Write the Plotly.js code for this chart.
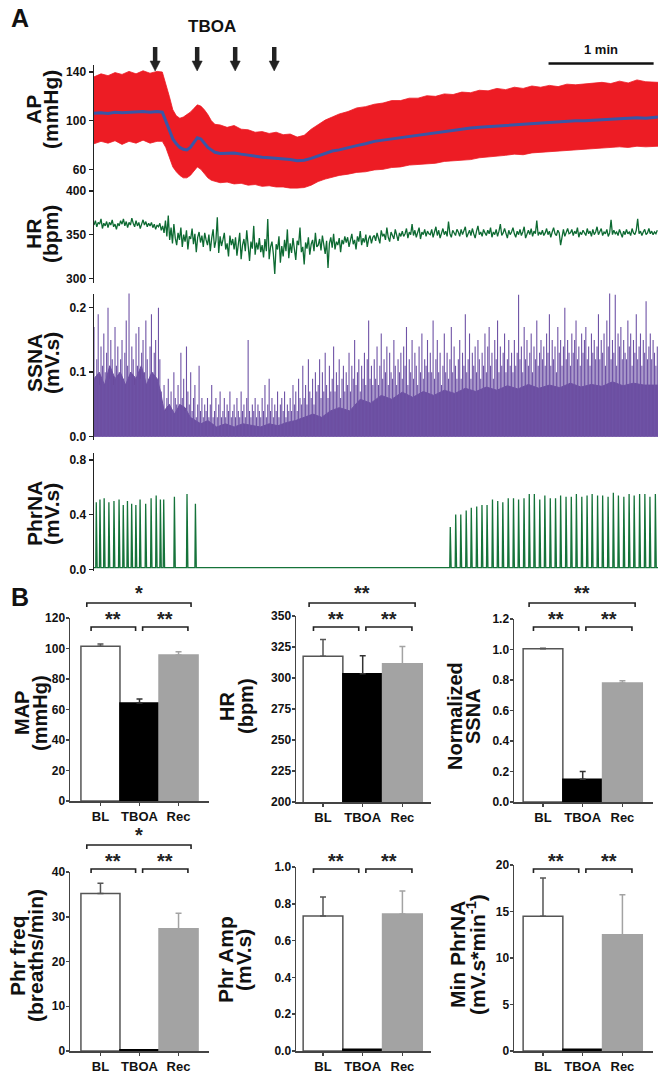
<!DOCTYPE html>
<html>
<head>
<meta charset="utf-8">
<script src="https://cdn.plot.ly/plotly-3.0.1.min.js"></script>
<style>
  html, body { margin: 0; padding: 0; background: #fff; }
  #chart { width: 662px; height: 1074px; }
</style>
</head>
<body>
<div id="chart"></div>
<script>
// ---------- Panel A: raw recordings (time in s) ----------
const apTime = [0,4,8,12,16,20,24,28,32,36,
  39,41,43,45,47,49,51,53,55,57,
  59,61,63,65,67,69,72,76,80,84,
  88,92,96,100,104,108,112,116,120,124,
  128,132,136,140,145,150,155,160,165,170,
  175,180,185,190,195,200,205,210,215,220,
  225,230,235,240,245,250,255,260,265,270,
  275,280,285,290,295,300,305,310,315,322];
const apSystolic = [136,138.5,137,139.5,138,140.5,138.5,141,139,140.5,
  140,131,120,109,104,102,103,105,107,110,
  113,112,109,105,100,97,96.5,94.5,96,93,
  92.5,90.5,91,89.5,90.5,88.5,89,86.5,88,93,
  97,100.5,103,105.5,107.5,110.5,111.5,113.5,114.5,116.5,
  116.5,118.5,118.5,120.5,120,122,121.5,123.5,123,125,
  124.5,126.5,125.5,127.5,126.5,128.5,127.5,129,128,130,
  129.5,130,130.5,131.5,130.5,132.5,131,133.5,132,131.5];
const apDiastolic = [81,83,81.5,83.5,80.5,83,81.5,84,81.5,83,
  83,78,70,62,58,55,53,53,55,59,
  62,60,56,53,51,50,49,49.5,48,48.5,
  47,47.5,46,46.5,45.5,45.5,44.5,44.5,45,47,
  50,52,53.5,55,56,57.5,58,59.5,60,61.5,
  62,63.5,64,64.5,65,66.5,67,67.5,68,69.5,
  70,71,71.5,72.5,72,73.5,74,74.5,75,75.5,
  76,76.5,77,77.5,77.5,78.5,78,79,78.5,79];
const apMean = [106,106.5,106,107,106.5,107,107,107.5,107,107.5,
  107,100,92,85,81,78,76.5,76,78,82,
  86,85,81,78,76,74,73,73,73.5,72.5,
  71.5,70.5,70,69.5,69,69,68,67,67.5,69,
  71,73,75,76,78,79.5,81,83,84,85,
  86.5,87.5,88.5,89.5,90,91,92,93,94,94.5,
  95,96,96.5,97,97,97.5,98,98.5,99,99.5,
  100,100,100.5,101,101,101.5,102,102.5,102,103];

const hrStep = 0.8; // s between HR samples
const hrValues = [
  361,366,359,364,362,368,357,363,360,365,358,364,361,367,359,362,356,363,360,366,
  362,368,360,365,358,364,361,369,363,359,366,360,364,357,362,367,361,365,359,363,
  360,364,358,362,356,361,359,363,355,360,352,366,348,372,344,358,340,362,346,338,
  352,344,358,336,350,342,355,333,348,345,357,339,351,330,347,353,341,349,336,352,
  344,338,350,331,346,356,335,343,370,329,348,337,344,352,333,340,325,349,338,345,
  333,347,326,340,352,322,338,345,331,355,336,320,342,334,360,327,341,333,346,330,
  338,324,345,331,368,322,336,342,328,305,339,333,348,318,337,325,344,331,356,323,
  340,329,346,335,321,343,338,358,330,336,316,341,334,347,327,339,344,331,352,336,
  338,345,332,349,336,328,343,312,340,347,335,351,333,342,338,346,330,344,339,348,
  341,347,336,345,351,339,344,333,348,342,354,338,346,341,350,336,345,349,340,347,
  349,343,352,346,340,355,348,351,344,358,347,342,353,349,345,356,350,343,352,348,
  354,348,351,357,346,353,350,362,349,355,347,352,358,345,353,350,356,348,354,351,
  350,356,347,353,359,349,355,346,352,357,350,354,348,365,351,347,355,352,349,356,
  353,348,356,350,354,359,347,352,355,349,357,351,346,354,360,350,353,348,356,352,
  349,355,351,358,347,353,350,356,348,354,362,349,352,357,351,346,355,350,353,358,
  351,347,354,350,356,349,353,359,346,352,355,350,357,348,354,351,366,349,353,350,
  355,349,352,357,350,354,347,353,358,351,349,355,352,338,350,356,348,353,357,351,
  352,356,349,354,351,358,347,353,350,355,352,349,357,351,354,348,356,350,353,359,
  350,354,357,349,353,351,356,348,352,367,350,355,351,353,349,356,352,347,354,350,
  356,351,353,349,357,352,350,355,368,351,354,349,353,356,350,352,357,351,354,350,
  353,351,355];

const ssnaStep = 0.8; // s between integrated SSNA bursts
const ssnaPeaks = [
  0.17,0.09,0.12,0.19,0.08,0.14,0.11,0.16,0.10,0.13,0.20,0.09,0.15,0.12,0.08,0.17,0.11,0.14,0.10,0.12,
  0.15,0.09,0.13,0.18,0.11,0.23,0.10,0.14,0.12,0.08,0.16,0.11,0.17,0.09,0.13,0.15,0.10,0.18,0.12,0.09,
  0.14,0.19,0.10,0.13,0.15,0.09,0.20,0.12,0.07,0.05,0.08,0.04,0.06,0.09,0.05,0.07,0.04,0.10,0.06,0.05,
  0.08,0.05,0.13,0.06,0.09,0.04,0.14,0.07,0.05,0.10,0.04,0.06,0.08,0.03,0.05,0.11,0.04,0.06,0.03,0.05,
  0.04,0.06,0.03,0.05,0.08,0.03,0.04,0.06,0.03,0.05,0.07,0.03,0.04,0.06,0.03,0.05,0.04,0.07,0.03,0.04,
  0.05,0.03,0.06,0.04,0.03,0.07,0.04,0.05,0.03,0.06,0.15,0.04,0.03,0.05,0.04,0.06,0.03,0.05,0.04,0.03,
  0.06,0.04,0.08,0.03,0.05,0.09,0.04,0.06,0.03,0.05,0.04,0.07,0.03,0.05,0.06,0.04,0.07,0.03,0.05,0.04,
  0.06,0.04,0.08,0.05,0.07,0.04,0.09,0.06,0.05,0.11,0.06,0.08,0.05,0.12,0.07,0.06,0.09,0.05,0.10,0.07,
  0.08,0.12,0.06,0.10,0.07,0.13,0.08,0.06,0.11,0.07,0.09,0.14,0.07,0.10,0.08,0.12,0.06,0.09,0.11,0.07,
  0.10,0.08,0.13,0.07,0.11,0.09,0.15,0.08,0.10,0.12,0.07,0.11,0.09,0.13,0.08,0.12,0.18,0.09,0.11,0.08,
  0.12,0.09,0.14,0.08,0.11,0.16,0.09,0.12,0.10,0.14,0.08,0.13,0.10,0.09,0.15,0.11,0.08,0.12,0.10,0.13,
  0.09,0.14,0.11,0.17,0.08,0.12,0.10,0.15,0.09,0.13,0.11,0.08,0.14,0.10,0.16,0.09,0.12,0.11,0.15,0.10,
  0.13,0.10,0.18,0.09,0.12,0.15,0.10,0.13,0.08,0.11,0.16,0.10,0.13,0.09,0.12,0.17,0.10,0.14,0.11,0.09,
  0.12,0.15,0.09,0.13,0.11,0.19,0.10,0.12,0.16,0.09,0.13,0.11,0.14,0.10,0.15,0.12,0.09,0.13,0.11,0.16,
  0.10,0.14,0.17,0.11,0.13,0.09,0.15,0.12,0.18,0.10,0.14,0.11,0.13,0.16,0.10,0.12,0.15,0.11,0.13,0.10,
  0.15,0.11,0.13,0.22,0.12,0.14,0.10,0.17,0.12,0.15,0.11,0.13,0.16,0.10,0.14,0.12,0.18,0.11,0.13,0.15,
  0.12,0.14,0.11,0.16,0.13,0.19,0.11,0.15,0.12,0.14,0.10,0.17,0.13,0.15,0.11,0.14,0.20,0.12,0.15,0.13,
  0.11,0.16,0.13,0.15,0.18,0.12,0.14,0.11,0.16,0.13,0.15,0.17,0.12,0.14,0.11,0.16,0.13,0.15,0.12,0.14,
  0.19,0.12,0.15,0.13,0.16,0.11,0.18,0.14,0.24,0.12,0.15,0.13,0.22,0.11,0.16,0.14,0.17,0.12,0.15,0.13,
  0.12,0.18,0.14,0.16,0.11,0.15,0.13,0.19,0.12,0.14,0.16,0.11,0.15,0.13,0.21,0.12,0.14,0.16,0.12,0.15,
  0.13,0.11,0.14];
const ssnaBodyTime = [0,3,6,9,12,15,18,21,24,27,30,33,36,38,40,43,46,49,52,55,
  58,61,65,70,75,80,85,90,95,100,105,110,115,120,125,130,135,140,146,152,
  158,164,170,176,182,188,194,200,206,212,218,224,230,236,242,248,254,260,266,272,
  278,284,290,296,302,308,314,322];
const ssnaBody = [0.09,0.10,0.08,0.11,0.09,0.10,0.08,0.10,0.09,0.11,
  0.08,0.10,0.09,0.07,0.04,0.05,0.035,0.05,0.045,0.03,
  0.025,0.02,0.025,0.015,0.02,0.015,0.02,0.018,0.015,0.02,
  0.017,0.022,0.025,0.03,0.035,0.03,0.04,0.045,0.04,0.058,
  0.052,0.064,0.058,0.069,0.061,0.07,0.064,0.072,0.067,0.075,
  0.07,0.077,0.072,0.079,0.074,0.081,0.075,0.08,0.076,0.083,
  0.077,0.081,0.078,0.085,0.079,0.083,0.08,0.08];

const phrBurstTimes = [1.3,3.4,5.8,8.5,11.4,14.3,16.7,19.1,21.5,23.9,26.3,29.5,32.6,35.5,37.9,39.8,
  45.9,53.1,57.9,
  203.4,206.5,209.4,212.5,215.4,218.5,221.5,224.4,227.5,230.5,
  233.4,236.5,239.5,242.4,245.5,248.5,251.4,254.5,257.4,260.5,
  263.5,266.4,269.5,272.5,275.4,278.5,281.5,284.4,287.5,290.4,
  293.5,296.5,299.4,302.5,305.5,308.4,311.5,314.5,317.4,320.5];
const phrBurstAmps = [0.49,0.51,0.52,0.49,0.50,0.51,0.47,0.50,0.48,0.47,0.51,0.48,0.52,0.54,0.51,0.51,
  0.53,0.55,0.48,
  0.31,0.40,0.40,0.43,0.45,0.46,0.47,0.47,0.51,0.50,
  0.49,0.52,0.52,0.51,0.52,0.55,0.55,0.51,0.54,0.52,
  0.52,0.54,0.53,0.53,0.55,0.53,0.54,0.55,0.54,0.54,
  0.53,0.56,0.54,0.53,0.55,0.54,0.55,0.55,0.53,0.55];
const phrBaseline = 0.012;

const tboaTimes = [34.9, 58.9, 80.6, 102.9];
const scaleBarStart = 259.5, scaleBarLength = 60;
const recordEnd = 322;

// ---------- Panel B: group data (mean, SEM) ----------
const groups = ["BL", "TBOA", "Rec"];
const mapMean = [101.5, 64.3, 95.8], mapSem = [1.5, 2.6, 2.0];
const hrMean = [317.5, 303.5, 311.5], hrSem = [13.5, 14.5, 14.0];
const ssnaMean = [1.005, 0.15, 0.78], ssnaSem = [0.004, 0.05, 0.015];
const phrFreqMean = [35.2, 0.3, 27.3], phrFreqSem = [2.3, 0, 3.5];
const phrAmpMean = [0.734, 0.01, 0.745], phrAmpSem = [0.103, 0, 0.125];
const minPhrMean = [14.5, 0.2, 12.5], minPhrSem = [4.1, 0, 4.3];

// ---------- helpers ----------
const FONT = "Arial, 'Liberation Sans', sans-serif";
const W = 662, H = 1074;
const px = x => x / W;
const py = y => 1 - y / H;
const bold = (size, color = "#111") => ({ family: FONT, size, weight: "bold", color });

const traces = [];
const annotations = [];
const shapes = [];

// AP band + mean
traces.push({ x: apTime, y: apDiastolic, xaxis: "x", yaxis: "y", mode: "lines",
  line: { color: "#ed1c24", width: 0.8 } });
traces.push({ x: apTime, y: apSystolic, xaxis: "x", yaxis: "y", mode: "lines",
  fill: "tonexty", fillcolor: "#ed1c24", line: { color: "#ed1c24", width: 0.8 } });
traces.push({ x: apTime, y: apMean, xaxis: "x", yaxis: "y", mode: "lines",
  line: { color: "#3a56a6", width: 3 } });

// HR
traces.push({ x: hrValues.map((_, i) => i * hrStep), y: hrValues, xaxis: "x", yaxis: "y2",
  mode: "lines", line: { color: "#0d6a32", width: 1.3 } });

// SSNA body + bursts
traces.push({ x: ssnaBodyTime, y: ssnaBody, xaxis: "x", yaxis: "y3", mode: "lines",
  fill: "tozeroy", fillcolor: "#6a4b9d", line: { color: "#6a4b9d", width: 1 } });
const ssnaX = [], ssnaY = [];
ssnaPeaks.forEach((p, i) => { ssnaX.push(i * ssnaStep, i * ssnaStep, null); ssnaY.push(0, p, null); });
traces.push({ x: ssnaX, y: ssnaY, xaxis: "x", yaxis: "y3", mode: "lines",
  line: { color: "#6f53a6", width: 1.1 } });

// PhrNA
const phrX = [0], phrY = [phrBaseline];
phrBurstTimes.forEach((t, i) => {
  phrX.push(t - 0.3, t, t + 0.5);
  phrY.push(phrBaseline, phrBurstAmps[i], phrBaseline);
});
phrX.push(recordEnd); phrY.push(phrBaseline);
traces.push({ x: phrX, y: phrY, xaxis: "x", yaxis: "y4", mode: "lines",
  line: { color: "#15733a", width: 1.3 } });

const layout = {
  width: W, height: H,
  margin: { l: 0, r: 0, t: 0, b: 0 },
  paper_bgcolor: "#fff", plot_bgcolor: "rgba(0,0,0,0)",
  showlegend: false, hovermode: false,
  barmode: "overlay",
  font: { family: FONT, color: "#111" },
  xaxis: { domain: [px(94), px(658)], range: [0, recordEnd], anchor: "y4",
    showline: false, showticklabels: false, ticks: "", showgrid: false, zeroline: false },
};

const aAxis = (domTop, domBot, range, vals, text) => ({
  domain: [py(domBot), py(domTop)], range, anchor: "x",
  tickvals: vals, ticktext: text,
  showline: true, linecolor: "#222", linewidth: 1.5,
  ticks: "outside", ticklen: 4, tickwidth: 1.5, tickcolor: "#222",
  tickfont: bold(12), showgrid: false, zeroline: false,
});
layout.yaxis = aAxis(64.7, 188.8, [44, 146], [60, 100, 140], ["60", "100", "140"]);
layout.yaxis2 = aAxis(186.6, 282.7, [295, 405], [300, 350, 400], ["300", "350", "400"]);
layout.yaxis3 = aAxis(293.5, 439.9, [-0.005, 0.222], [0, 0.1, 0.2], ["0.0", "0.1", "0.2"]);
layout.yaxis4 = aAxis(453.1, 570.7, [-0.01, 0.85], [0, 0.4, 0.8], ["0.0", "0.4", "0.8"]);

// Panel A titles (two lines each, rotated)
const aTitles = [
  ["AP", "(mmHg)", 110], ["HR", "(bpm)", 234], ["SSNA", "(mV.s)", 363], ["PhrNA", "(mV.s)", 514],
];
aTitles.forEach(([l1, l2, yc]) => {
  annotations.push({ text: l1, x: px(34), y: py(yc), xref: "paper", yref: "paper",
    textangle: -90, showarrow: false, xanchor: "center", yanchor: "middle", font: bold(21) });
  annotations.push({ text: l2, x: px(51), y: py(yc), xref: "paper", yref: "paper",
    textangle: -90, showarrow: false, xanchor: "center", yanchor: "middle", font: bold(21) });
});

annotations.push({ text: "A", x: px(20), y: py(18), xref: "paper", yref: "paper", showarrow: false,
  xanchor: "center", yanchor: "middle", font: bold(25) });
annotations.push({ text: "TBOA", x: px(212), y: py(26), xref: "paper", yref: "paper", showarrow: false,
  xanchor: "center", yanchor: "middle", font: bold(17) });

// TBOA injection arrows: shaft + filled head
tboaTimes.forEach(t => {
  shapes.push({ type: "line", xref: "x", yref: "paper", x0: t, x1: t, y0: py(47), y1: py(62),
    line: { color: "#222", width: 4.5 } });
  shapes.push({ type: "path", xref: "x", yref: "paper",
    path: `M${t - 2.9},${py(61)} L${t + 2.9},${py(61)} L${t},${py(71)} Z`,
    fillcolor: "#222", line: { color: "#222", width: 0.5 } });
});
shapes.push({ type: "line", xref: "x", yref: "paper", x0: scaleBarStart, x1: scaleBarStart + scaleBarLength,
  y0: py(63.5), y1: py(63.5), line: { color: "#111", width: 2.5 } });
annotations.push({ text: "1 min", x: scaleBarStart + scaleBarLength / 2, y: py(49), xref: "x", yref: "paper",
  showarrow: false, xanchor: "center", yanchor: "middle", font: bold(13) });

// ---------- Panel B bar charts ----------
annotations.push({ text: "B", x: px(20), y: py(597), xref: "paper", yref: "paper", showarrow: false,
  xanchor: "center", yanchor: "middle", font: bold(25) });

const barFill = ["#ffffff", "#000000", "#a3a3a3"];
const barEdge = ["#555555", "#000000", "#a3a3a3"];
const errColor = ["#555555", "#333333", "#a3a3a3"];

const charts = [
  { mean: mapMean, sem: mapSem, range: [0, 120], dtick: 20, fmt: "d",
    x: [70, 209], y: [618, 801], xr: [-0.78, 2.78], title: ["MAP", "(mmHg)"], tx: [22, 40], ty: 713, fs: 20,
    outer: "*", top: 603 },
  { mean: hrMean, sem: hrSem, range: [200, 350], dtick: 25, fmt: "d",
    x: [296, 431], y: [616, 802], xr: [-0.68, 2.72], title: ["HR", "(bpm)"], tx: [227, 246], ty: 706, fs: 20,
    outer: "**", top: 603 },
  { mean: ssnaMean, sem: ssnaSem, range: [0, 1.2], dtick: 0.2, fmt: ".1f",
    x: [514, 653], y: [619, 802], xr: [-0.73, 2.77], title: ["Normalized", "SSNA"], tx: [455, 473], ty: 716, fs: 20,
    outer: "**", top: 603 },
  { mean: phrFreqMean, sem: phrFreqSem, range: [0, 40], dtick: 10, fmt: "d",
    x: [70, 209], y: [872, 1051], xr: [-0.78, 2.78], title: ["Phr freq", "(breaths/min)"], tx: [17, 35], ty: 956, fs: 21,
    outer: "*", top: 845 },
  { mean: phrAmpMean, sem: phrAmpSem, range: [0, 1.0], dtick: 0.2, fmt: ".1f",
    x: [296, 431], y: [867, 1051], xr: [-0.68, 2.72], title: ["Phr Amp", "(mV.s)"], tx: [226, 244], ty: 960, fs: 21,
    outer: null, top: 845 },
  { mean: minPhrMean, sem: minPhrSem, range: [0, 20], dtick: 5, fmt: "d",
    x: [514, 653], y: [865, 1051], xr: [-0.73, 2.77], title: ["Min PhrNA", "(mV.s*min<sup>-1</sup>)"], tx: [457, 476], ty: 955, fs: 21,
    outer: null, top: 845 },
];

const bracket = (xa, x0, x1, yPx) => {
  const y = py(yPx), d = 4 / H;
  return { type: "path", xref: xa, yref: "paper",
    path: `M${x0},${y - d} L${x0},${y} L${x1},${y} L${x1},${y - d}`,
    line: { color: "#222", width: 1.6 } };
};
const stars = (xa, x, yPx, s) => ({ text: s, x, y: py(yPx), xref: xa, yref: "paper", showarrow: false,
  xanchor: "center", yanchor: "middle", font: bold(20, "#222") });

charts.forEach((c, k) => {
  const n = k + 2;
  const xa = "x" + n, ya = "y" + (n + 3);
  groups.forEach((g, i) => {
    traces.push({ type: "bar", x: [g], y: [c.mean[i]], xaxis: xa, yaxis: ya, width: 1,
      marker: { color: barFill[i], line: { color: barEdge[i], width: 1.5 } },
      error_y: { type: "data", symmetric: false, array: [c.sem[i]], arrayminus: [0],
        visible: c.sem[i] > 0, color: errColor[i], thickness: 1.5, width: 3 } });
  });
  layout["xaxis" + n] = { domain: [px(c.x[0]), px(c.x[1])], range: c.xr, anchor: ya,
    type: "category", categoryorder: "array", categoryarray: groups,
    showline: true, linecolor: "#444", linewidth: 1.5, ticks: "outside", ticklen: 3,
    tickwidth: 1.5, tickcolor: "#444", tickfont: bold(13), showgrid: false, zeroline: false };
  layout["yaxis" + (n + 3)] = { domain: [py(c.y[1]), py(c.y[0])], range: c.range, anchor: xa,
    dtick: c.dtick, tick0: c.range[0], tickformat: c.fmt,
    showline: true, linecolor: "#444", linewidth: 1.5, ticks: "outside", ticklen: 3,
    tickwidth: 1.5, tickcolor: "#444", tickfont: bold(12), ticklabelstandoff: -2,
    showgrid: false, zeroline: false };

  c.title.forEach((t, j) => {
    annotations.push({ text: t, x: px(c.tx[j]), y: py(c.ty), xref: "paper", yref: "paper",
      textangle: -90, showarrow: false, xanchor: "center", yanchor: "middle", font: bold(c.fs) });
  });

  const innerY = c.top + 24;
  shapes.push(bracket(xa, -0.24, 0.9, innerY));
  shapes.push(bracket(xa, 1.08, 2.24, innerY));
  annotations.push(stars(xa, 0.33, innerY - 8, "**"));
  annotations.push(stars(xa, 1.66, innerY - 8, "**"));
  if (c.outer) {
    shapes.push(bracket(xa, -0.35, 2.32, c.top));
    annotations.push(stars(xa, 0.98, c.top - 10, c.outer));
  }
});

layout.annotations = annotations;
layout.shapes = shapes;

Plotly.newPlot("chart", traces, layout, { staticPlot: true, displayModeBar: false });
</script>
</body>
</html>
